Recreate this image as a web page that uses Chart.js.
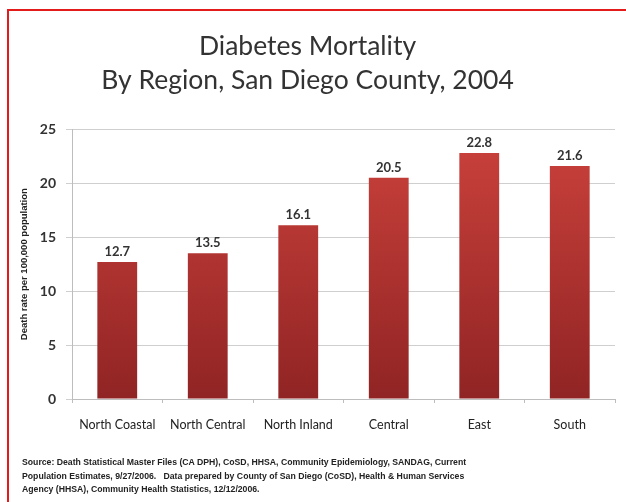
<!DOCTYPE html>
<html>
<head>
<meta charset="utf-8">
<script src="https://cdn.jsdelivr.net/npm/chart.js@4"></script>
<style>
  html, body { margin: 0; padding: 0; background: #fff; }
  #wrap { position: relative; width: 626px; height: 502px; overflow: hidden; }
  #grafico { position: absolute; left: 0; top: 0; }
  #moldura {
    position: absolute; left: 7px; top: 9px; width: 640px; height: 520px;
    border-top: 2px solid #e41b1b; border-left: 2px solid #e41b1b;
    pointer-events: none;
  }
  #fonte {
    position: absolute; left: 22px; top: 456px;
    font: bold 8.7px "Liberation Sans Narrow", "Liberation Sans", sans-serif;
    line-height: 13.5px; color: #222; white-space: pre;
  }
</style>
</head>
<body>
<div id="wrap">
  <canvas id="grafico" width="626" height="502"></canvas>
  <div id="moldura"></div>
  <div id="fonte">Source: Death Statistical Master Files (CA DPH), CoSD, HHSA, Community Epidemiology, SANDAG, Current
Population Estimates, 9/27/2006.   Data prepared by County of San Diego (CoSD), Health &amp; Human Services
Agency (HHSA), Community Health Statistics, 12/12/2006.</div>
</div>
<script>
// dados
const regioes = ["North Coastal", "North Central", "North Inland", "Central", "East", "South"];
const taxas = [12.7, 13.5, 16.1, 20.5, 22.8, 21.6];
const titulo = ["Diabetes Mortality", "By Region, San Diego County, 2004"];
const tituloEixoY = "Death rate per 100,000 population";

const fonteBase = "Lato, 'Open Sans', sans-serif";

// gradiente vertical das barras
function corBarra(ctx) {
  const area = ctx.chart.chartArea;
  if (!area) return "#b83232";
  const g = ctx.chart.ctx.createLinearGradient(0, area.top, 0, area.bottom);
  g.addColorStop(0, "#cc423c");
  g.addColorStop(1, "#902424");
  return g;
}

// rótulos de valor em cima das barras
const rotulos = {
  id: "rotulos",
  afterDatasetsDraw(chart) {
    const c = chart.ctx;
    const meta = chart.getDatasetMeta(0);
    c.save();
    c.font = "bold 13px " + fonteBase;
    c.fillStyle = "#333";
    c.textAlign = "center";
    c.textBaseline = "bottom";
    meta.data.forEach((bar, i) => {
      c.fillText(taxas[i].toFixed(1), bar.x, bar.y - 4);
    });
    c.restore();
  }
};

const grafico = new Chart(document.getElementById("grafico"), {
  type: "bar",
  data: {
    labels: regioes,
    datasets: [
      {
        label: "Diabetes Mortality",
        data: taxas,
        backgroundColor: corBarra,
        borderWidth: 0,
        barPercentage: 0.44,
        categoryPercentage: 1
      }
    ]
  },
  options: {
    responsive: false,
    animation: false,
    layout: { padding: { left: 0, right: 11, top: 0, bottom: 43 } },
    plugins: {
      legend: { display: false },
      tooltip: { enabled: false },
      title: {
        display: true,
        text: titulo,
        color: "#333",
        font: { family: fonteBase, size: 26.5, weight: "normal", lineHeight: 1.27 },
        padding: { top: 30, bottom: 32 }
      }
    },
    scales: {
      x: {
        afterFit: (s) => { s.height = 60; },
        border: { color: "#bdbdbd" },
        grid: { offset: true, drawOnChartArea: false, tickLength: 4, color: "#bdbdbd" },
        ticks: { color: "#222", padding: 14, font: { family: fonteBase, size: 12.5 } }
      },
      y: {
        min: 0,
        max: 25,
        afterFit: (s) => { s.width = 72; },
        border: { color: "#bdbdbd" },
        grid: { color: "#cfcfcf", tickLength: 6 },
        ticks: { stepSize: 5, color: "#333", padding: 10, font: { family: fonteBase, size: 14, weight: "bold" } },
        title: {
          display: true,
          text: tituloEixoY,
          color: "#222",
          padding: { top: 19, bottom: 0 },
          font: { family: "'Liberation Sans Narrow', 'Liberation Sans', sans-serif", size: 9.5, weight: "bold" }
        }
      }
    }
  },
  plugins: [rotulos]
});
</script>
</body>
</html>
